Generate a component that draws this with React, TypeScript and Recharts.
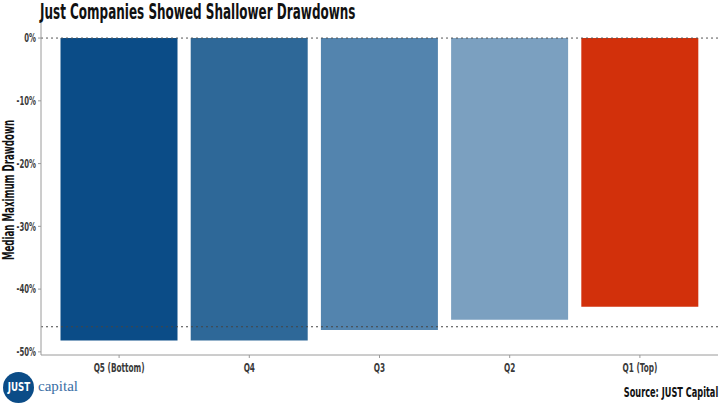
import { BarChart, Bar, Cell, XAxis, YAxis, ReferenceLine } from "recharts";

const FONT = "'DejaVu Sans Condensed', 'Liberation Sans Narrow', sans-serif";
const AXIS = "#9a9a9a";
const TEXT = "#3a3a3a";

const quintiles = ["Q5 (Bottom)", "Q4", "Q3", "Q2", "Q1 (Top)"];
const drawdowns = [-48.2, -48.2, -46.5, -44.9, -42.8];
const colors = ["#0B4C87", "#2E6898", "#5384AE", "#7BA0C0", "#D2300B"];
const yTicks = [0, -10, -20, -30, -40, -50];
const refLevels = [0, -46.0];

const data = quintiles.map((q, i) => ({ q, value: drawdowns[i] }));

// narrow text: squeeze horizontally to mimic a condensed face
function XTick({ x, y, payload }: any) {
  return (
    <g transform={`translate(${x},${y + 12}) scale(0.68,1)`}>
      <text textAnchor="middle" fill={TEXT} fontSize={12} fontWeight={700} fontFamily={FONT}>
        {payload.value}
      </text>
    </g>
  );
}

function YTick({ x, y, payload }: any) {
  return (
    <g transform={`translate(${x},${y}) scale(0.64,1)`}>
      <text textAnchor="end" dy="0.36em" fill={TEXT} fontSize={12} fontWeight={700} fontFamily={FONT}>
        {`${payload.value}%`}
      </text>
    </g>
  );
}

export default function App() {
  return (
    <div style={{ position: "absolute", left: 0, top: 0, width: 720, height: 405, background: "#fff", fontFamily: FONT }}>
      <div
        style={{
          position: "absolute",
          left: 40,
          top: 0,
          fontSize: 21,
          fontWeight: 700,
          color: "#111",
          whiteSpace: "nowrap",
          transform: "scaleX(0.635)",
          transformOrigin: "left top",
        }}
      >
        Just Companies Showed Shallower Drawdowns
      </div>
      <div
        style={{
          position: "absolute",
          left: 9,
          top: 190,
          transform: "translate(-50%, -50%) rotate(-90deg) scaleX(0.64)",
          fontSize: 15,
          fontWeight: 700,
          color: "#111",
          whiteSpace: "nowrap",
        }}
      >
        Median Maximum Drawdown
      </div>
      <BarChart
        width={720}
        height={405}
        data={data}
        margin={{ top: 23, right: 2, bottom: 20, left: 0 }}
        barCategoryGap="5%"
      >
        <XAxis
          dataKey="q"
          padding={{ left: 13, right: 13 }}
          stroke={AXIS}
          tickSize={3}
          height={30}
          tick={<XTick />}
        />
        <YAxis
          width={41}
          domain={[-50.5, 2.4]}
          ticks={yTicks}
          stroke={AXIS}
          tickSize={3}
          tick={<YTick />}
          allowDataOverflow
        />
        <ReferenceLine y={refLevels[0]} stroke="#555" strokeDasharray="2 3" />
        <Bar dataKey="value" isAnimationActive={false}>
          {data.map((d, i) => (
            <Cell key={d.q} fill={colors[i]} />
          ))}
        </Bar>
        <ReferenceLine y={refLevels[1]} stroke="#444" strokeDasharray="2 3" />
      </BarChart>
      <div
        style={{
          position: "absolute",
          left: 3,
          top: 372,
          width: 31,
          height: 31,
          borderRadius: 16,
          background: "#0B4C87",
          color: "#fff",
          fontSize: 12,
          fontWeight: 700,
          lineHeight: "31px",
          textAlign: "center",
        }}
      >
        <span style={{ display: "inline-block", transform: "scaleX(0.8)" }}>JUST</span>
      </div>
      <div style={{ position: "absolute", left: 38, top: 378, fontSize: 15, color: "#3A6EA5", fontFamily: "'Liberation Serif', serif" }}>
        capital
      </div>
      <div
        style={{
          position: "absolute",
          right: 2,
          top: 384,
          fontSize: 14,
          fontWeight: 700,
          color: "#111",
          whiteSpace: "nowrap",
          transform: "scaleX(0.65)",
          transformOrigin: "right top",
        }}
      >
        Source: JUST Capital
      </div>
    </div>
  );
}
